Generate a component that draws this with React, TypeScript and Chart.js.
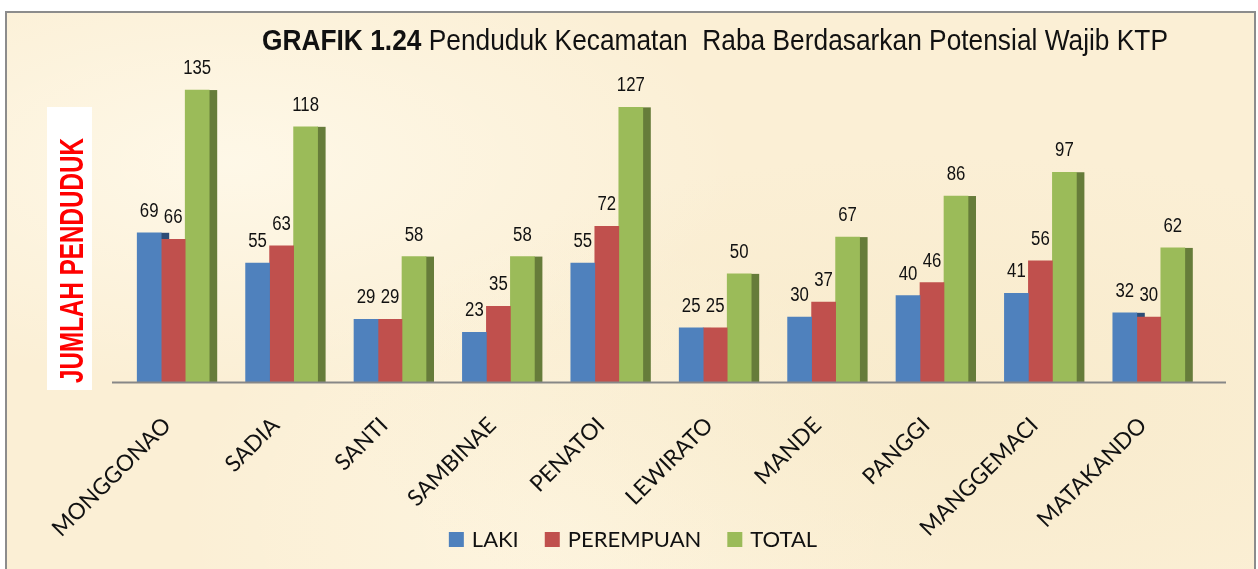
import React, { useEffect, useRef } from "react";
import { Chart, registerables } from "chart.js";

Chart.register(...registerables);

// ---------- data ----------
const categories = [
  "MONGGONAO",
  "SADIA",
  "SANTI",
  "SAMBINAE",
  "PENATOI",
  "LEWIRATO",
  "MANDE",
  "PANGGI",
  "MANGGEMACI",
  "MATAKANDO",
];
const seriesNames = ["LAKI", "PEREMPUAN", "TOTAL"];
const laki = [69, 55, 29, 23, 55, 25, 30, 40, 41, 32];
const perempuan = [66, 63, 29, 35, 72, 25, 37, 46, 56, 30];
const total = [135, 118, 58, 58, 127, 50, 67, 86, 97, 62];
const yMin = 0;
const yMax = 160;
const titleBold = "GRAFIK 1.24";
const titleRest = " Penduduk Kecamatan  Raba Berdasarkan Potensial Wajib KTP";
const yTitle = "JUMLAH PENDUDUK";

// ---------- styles ----------
const barColors = ["#4f81bd", "#c0504d", "#9bbb59"];
const sideColors = ["#2d4d77", "#8a3431", "#667c3a"];
const SIDE = 8;
const LEGEND_FONT = "Lato";
const SANS = "'Liberation Sans', Arial, sans-serif";

const decorPlugin = {
  id: "decor",
  beforeDraw(chart: any) {
    const ctx = chart.ctx as CanvasRenderingContext2D;
    ctx.save();
    ctx.fillStyle = "#ffffff";
    ctx.fillRect(47, 107, 45, 283);
    ctx.restore();
  },
  beforeDatasetsDraw(chart: any) {
    const ctx = chart.ctx as CanvasRenderingContext2D;
    ctx.save();
    chart.data.datasets.forEach((ds: any, di: number) => {
      const meta = chart.getDatasetMeta(di);
      ctx.fillStyle = ds.sideColor;
      meta.data.forEach((el: any) => {
        const { x, y, base, width } = el.getProps(["x", "y", "base", "width"], true);
        ctx.fillRect(x + width / 2 - 0.5, y, SIDE + 0.5, base - y);
      });
    });
    ctx.restore();
  },
  afterDatasetsDraw(chart: any) {
    const ctx = chart.ctx as CanvasRenderingContext2D;
    const area = chart.chartArea;
    const y0 = chart.scales.y.getPixelForValue(0);
    ctx.save();
    ctx.strokeStyle = "#878787";
    ctx.lineWidth = 2;
    ctx.beginPath();
    ctx.moveTo(area.left - 7, y0 + 0.5);
    ctx.lineTo(area.right + 23, y0 + 0.5);
    ctx.stroke();
    ctx.fillStyle = "#111";
    ctx.font = `19.5px ${SANS}`;
    ctx.textAlign = "center";
    ctx.textBaseline = "alphabetic";
    chart.data.datasets.forEach((ds: any, di: number) => {
      const meta = chart.getDatasetMeta(di);
      meta.data.forEach((el: any, i: number) => {
        const { x, y } = el.getProps(["x", "y"], true);
        ctx.save();
        ctx.translate(x, y - 16);
        ctx.scale(0.86, 1);
        ctx.fillText(String(ds.data[i]), 0, 0);
        ctx.restore();
      });
    });
    ctx.restore();
  },
  afterDraw(chart: any) {
    const ctx = chart.ctx as CanvasRenderingContext2D;
    ctx.save();
    ctx.fillStyle = "#111";
    ctx.textBaseline = "alphabetic";
    ctx.textAlign = "left";
    ctx.font = `bold 29px ${SANS}`;
    const wb = ctx.measureText(titleBold).width;
    ctx.font = `29px ${SANS}`;
    const wr = ctx.measureText(titleRest).width;
    const sx = 906 / (wb + wr);
    ctx.save();
    ctx.translate(262, 50);
    ctx.scale(sx, 1);
    ctx.font = `bold 29px ${SANS}`;
    ctx.fillText(titleBold, 0, 0);
    ctx.font = `29px ${SANS}`;
    ctx.fillText(titleRest, wb, 0);
    ctx.restore();

    ctx.save();
    ctx.font = `bold 33px ${SANS}`;
    const wy = ctx.measureText(yTitle).width;
    ctx.translate(70.5, 260.5);
    ctx.rotate(-Math.PI / 2);
    ctx.scale(245 / wy, 1);
    ctx.fillStyle = "#ff0000";
    ctx.textAlign = "center";
    ctx.fillText(yTitle, 0, 12);
    ctx.restore();

    ctx.font = `22px ${LEGEND_FONT}`;
    const items = chart.data.datasets.map((ds: any) => ({
      label: ds.label,
      color: ds.backgroundColor,
      w: ctx.measureText(ds.label).width,
    }));
    const box = 15, gapText = 8, gapItem = 26;
    const totalW =
      items.reduce((s: number, it: any) => s + box + gapText + it.w, 0) + gapItem * (items.length - 1);
    let lx = 633 - totalW / 2;
    const by = 532;
    items.forEach((it: any) => {
      ctx.fillStyle = it.color;
      ctx.fillRect(lx, by, box, box);
      ctx.fillStyle = "#111";
      ctx.fillText(it.label, lx + box + gapText, by + box);
      lx += box + gapText + it.w + gapItem;
    });
    ctx.restore();
  },
};

export default function App() {
  const ref = useRef<HTMLCanvasElement>(null);

  useEffect(() => {
    const canvas = ref.current!;
    const chart = new Chart(canvas, {
      type: "bar",
      data: {
        labels: categories,
        datasets: [laki, perempuan, total].map((d, i) => ({
          label: seriesNames[i],
          data: d,
          backgroundColor: barColors[i],
          sideColor: sideColors[i],
          barThickness: 24,
          borderWidth: 0,
        })) as any,
      },
      options: {
        responsive: false,
        animation: false,
        devicePixelRatio: 1,
        layout: { padding: { left: 119, right: 55, top: 36, bottom: 0 } },
        plugins: {
          legend: { display: false },
          title: { display: false },
          tooltip: { enabled: false },
        },
        scales: {
          x: {
            offset: true,
            grid: { display: false, drawTicks: false },
            border: { display: false },
            ticks: {
              autoSkip: false,
              maxRotation: 45,
              minRotation: 45,
              padding: 30,
              labelOffset: -6,
              color: "#111",
              font: { family: LEGEND_FONT, size: 22.5, lineHeight: 1.2 },
            },
            afterFit: (s: any) => {
              s.height = 187;
            },
          },
          y: { display: false, min: yMin, max: yMax },
        },
      },
      plugins: [decorPlugin],
    });
    return () => chart.destroy();
  }, []);

  const parchment =
    "radial-gradient(ellipse at 18% 25%, rgba(255,250,236,0.8), rgba(255,250,236,0) 35%)," +
    "radial-gradient(ellipse at 75% 65%, rgba(246,232,198,0.6), rgba(246,232,198,0) 45%)," +
    "radial-gradient(ellipse at 45% 85%, rgba(255,248,230,0.6), rgba(255,248,230,0) 40%)," +
    "#fbefd5";

  return (
    <div
      style={{
        position: "absolute",
        left: 0,
        top: 0,
        width: 1258,
        height: 569,
        overflow: "hidden",
        background: "#ffffff",
      }}
    >
      <div
        style={{
          position: "absolute",
          left: 5,
          top: 11,
          width: 1247,
          height: 600,
          border: "2px solid #8c8c8c",
          background: parchment,
        }}
      />
      <canvas
        ref={ref}
        width={1258}
        height={569}
        style={{ position: "absolute", left: 0, top: 0, width: 1258, height: 569 }}
      />
    </div>
  );
}
